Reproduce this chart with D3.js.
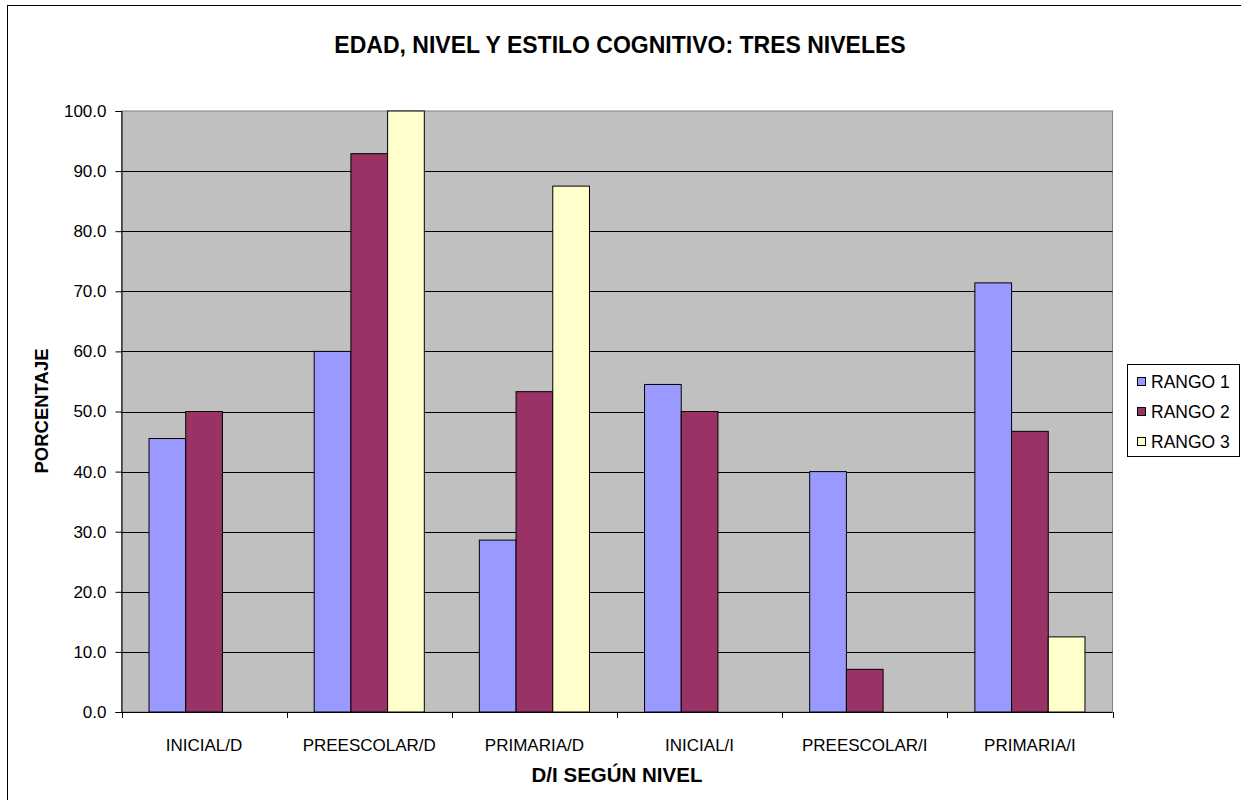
<!DOCTYPE html>
<html><head><meta charset="utf-8">
<script src="https://cdn.jsdelivr.net/npm/d3@7"></script>
<style>body{margin:0;background:#fff;}svg{display:block;font-family:"Liberation Sans",Arial,sans-serif;}</style>
</head><body>
<svg id="c" width="1241" height="800"></svg>
<script>
const categories = ["INICIAL/D","PREESCOLAR/D","PRIMARIA/D","INICIAL/I","PREESCOLAR/I","PRIMARIA/I"];
const seriesNames = ["RANGO 1","RANGO 2","RANGO 3"];
const rango1 = [45.5, 60.0, 28.6, 54.5, 40.0, 71.4];
const rango2 = [50.0, 92.9, 53.3, 50.0, 7.1, 46.7];
const rango3 = [0.0, 100.0, 87.5, 0.0, 0.0, 12.5];
const yTicks = [0,10,20,30,40,50,60,70,80,90,100];
const colors = ["#9999FF","#993366","#FFFFCC"];
const series = [rango1, rango2, rango3];

const svg = d3.select("#c");
const L = 121.5, R = 1112.5, T = 111, B = 712;

// outer chart border
svg.append("rect").attr("x",7.5).attr("y",5.5).attr("width",1300).attr("height",900)
  .attr("fill","#fff").attr("stroke","#000").attr("stroke-width",1);

const x0 = d3.scaleBand().domain(categories).range([L,R]).paddingInner(0).paddingOuter(0);
const y = d3.scaleLinear().domain([0,100]).range([B,T]);
const bw = x0.bandwidth()/4.5;
const x1 = d3.scaleBand().domain(seriesNames).range([0.75*bw, 3.75*bw]);

// plot area
svg.append("rect").attr("x",L).attr("y",T).attr("width",R-L).attr("height",B-T)
  .attr("fill","#C0C0C0").attr("stroke","#808080").attr("stroke-width",1);

// gridlines
svg.append("g").selectAll("line").data(yTicks.filter(d=>d>0 && d<100)).join("line")
  .attr("x1",L).attr("x2",R).attr("y1",d=>Math.round(y(d))+0.5).attr("y2",d=>Math.round(y(d))+0.5)
  .attr("stroke","#000").attr("stroke-width",1);

// bars
const g = svg.append("g");
categories.forEach((c,i)=>{
  series.forEach((s,j)=>{
    const v = s[i];
    if (v <= 0) return;
    g.append("rect")
      .attr("x", x0(c)+x1(seriesNames[j]))
      .attr("y", y(v))
      .attr("width", x1.bandwidth())
      .attr("height", B - y(v))
      .attr("fill", colors[j]).attr("stroke","#000").attr("stroke-width",1);
  });
});

// y axis
const yAxis = d3.axisLeft(y).tickValues(yTicks).tickFormat(d3.format(".1f")).tickSize(6).tickPadding(9);
const ya = svg.append("g").attr("transform",`translate(${L},0)`).call(yAxis);
ya.attr("font-size",17).attr("font-family","Liberation Sans, Arial, sans-serif");
ya.select(".domain").attr("stroke","#000");
ya.selectAll(".tick line").attr("stroke","#000");
ya.selectAll("text").attr("fill","#000");

// x axis
const xa = svg.append("g").attr("transform",`translate(0,${B})`);
xa.append("line").attr("x1",L).attr("x2",R).attr("y1",0.5).attr("y2",0.5).attr("stroke","#000");
const bounds = categories.map(c=>x0(c)).concat([R]);
xa.selectAll(".tk").data(bounds).join("line").attr("class","tk")
  .attr("x1",d=>Math.round(d)+0.5).attr("x2",d=>Math.round(d)+0.5).attr("y1",0).attr("y2",6).attr("stroke","#000");
xa.selectAll("text").data(categories).join("text")
  .attr("x",d=>x0(d)+x0.bandwidth()/2).attr("y",39)
  .attr("text-anchor","middle").attr("font-size",17).attr("fill","#000").text(d=>d);

// titles
svg.append("text").attr("x",620).attr("y",53).attr("text-anchor","middle")
  .attr("font-size",23).attr("font-weight","bold").text("EDAD, NIVEL Y ESTILO COGNITIVO: TRES NIVELES");
svg.append("text").attr("x",617).attr("y",782).attr("text-anchor","middle")
  .attr("font-size",20.5).attr("font-weight","bold").text("D/I SEGÚN NIVEL");
svg.append("text").attr("transform","translate(48,411) rotate(-90)").attr("text-anchor","middle")
  .attr("font-size",18.5).attr("font-weight","bold").text("PORCENTAJE");

// legend
const lg = svg.append("g");
lg.append("rect").attr("x",1127.5).attr("y",364.5).attr("width",112).attr("height",92)
  .attr("fill","#fff").attr("stroke","#000");
seriesNames.forEach((n,i)=>{
  const cy = 382 + i*30;
  lg.append("rect").attr("x",1137.5).attr("y",cy-4.5).attr("width",8).attr("height",8)
    .attr("fill",colors[i]).attr("stroke","#000");
  lg.append("text").attr("x",1151).attr("y",cy+6).attr("font-size",17.5).text(n);
});
</script>
</body></html>
